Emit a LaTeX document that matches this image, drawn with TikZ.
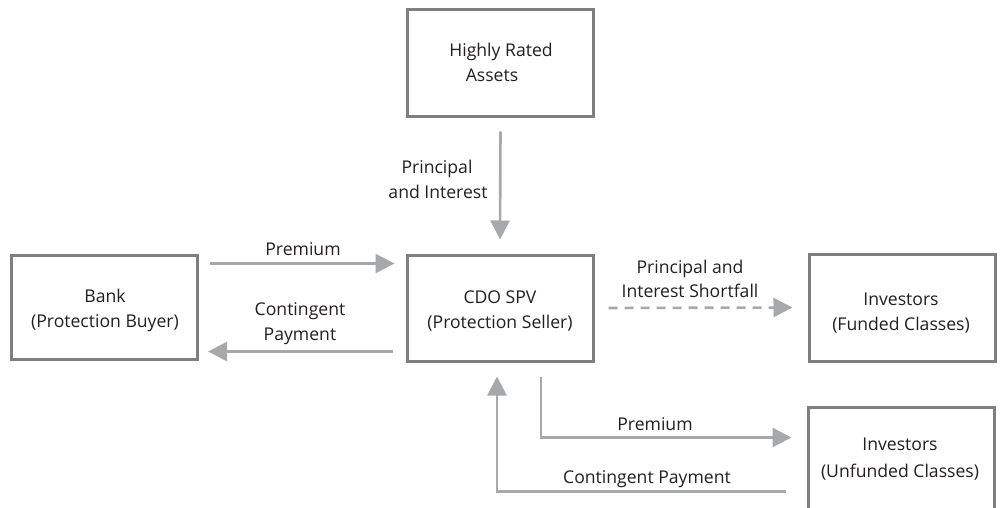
\documentclass[tikz,border=0pt]{standalone}
\usepackage{fontspec}
\setmainfont{Open Sans}
\usetikzlibrary{arrows.meta,calc}
\definecolor{boxline}{HTML}{7F7F81}
\definecolor{flowline}{HTML}{A7A8AA}
\definecolor{ink}{HTML}{231F20}
\begin{document}
\begin{tikzpicture}[x=1pt,y=-1pt,
  every node/.style={text=ink,font=\fontsize{17.6}{25}\selectfont,align=center,inner sep=0pt},
  entity/.style={draw=boxline,line width=3pt,minimum width=186pt},
  flow/.style={draw=flowline,line width=2.6pt,-{Triangle[length=19pt,width=19pt]}},
  lbl/.style={anchor=base}]
\useasboundingbox (0,0) rectangle (1000,508);
\clip (0,0) rectangle (1000,508);
\fill[white] (0,0) rectangle (1000,508);

% boxes
\node[entity,minimum height=107pt] (hra) at (500.5,63.5) {};
\node[entity,minimum height=106pt] (cdo) at (500,308) {};
\node[entity,minimum height=104pt] (bank) at (104.5,307) {};
\node[entity,minimum height=107pt] (fund) at (902,307.5) {};
\node[entity,minimum height=130pt] (unf) at (901,472) {};

% box texts
\node[lbl] at (501,57) {Highly Rated};
\node[lbl] at (492,82) {Assets};
\node[lbl] at (500,303) {CDO SPV};
\node[lbl] at (500,328) {(Protection Seller)};
\node[lbl] at (105,302) {Bank};
\node[lbl] at (105,327) {(Protection Buyer)};
\node[lbl] at (901,305) {Investors};
\node[lbl] at (901,330) {(Funded Classes)};
\node[lbl] at (900,450) {Investors};
\node[lbl] at (900,477) {(Unfunded Classes)};

% connectors
\draw[flow] ($(hra.south)+(0,13)$) -- ($(cdo.north)+(0,-14)$);
\draw[flow] ($(bank.north east)+(11,10)$) -- ($(cdo.north west)+(-11,10)$);
\draw[flow] ($(cdo.south west)+(-13,-11)$) -- ($(bank.south east)+(9,-9)$);
\draw[flow,dashed,dash pattern=on 9pt off 7pt] ($(cdo.east)+(14,0)$) -- ($(fund.west)+(-15,0)$);
\draw[flow] ($(cdo.south)+(41,14)$) |- ($(unf.north west)+(-15,32)$);
\draw[flow] ($(unf.north west)+(-21,86)$) -| ($(cdo.south)+(-3,14)$);

% connector labels
\node[lbl] at (437,173) {Principal};
\node[lbl] at (438,198) {and Interest};
\node[lbl] at (303,255) {Premium};
\node[lbl] at (300,315) {Contingent};
\node[lbl] at (300,340) {Payment};
\node[lbl] at (690,273) {Principal and};
\node[lbl] at (690,297) {Interest Shortfall};
\node[lbl] at (655,430) {Premium};
\node[lbl] at (647,483) {Contingent Payment};
\end{tikzpicture}
\end{document}
